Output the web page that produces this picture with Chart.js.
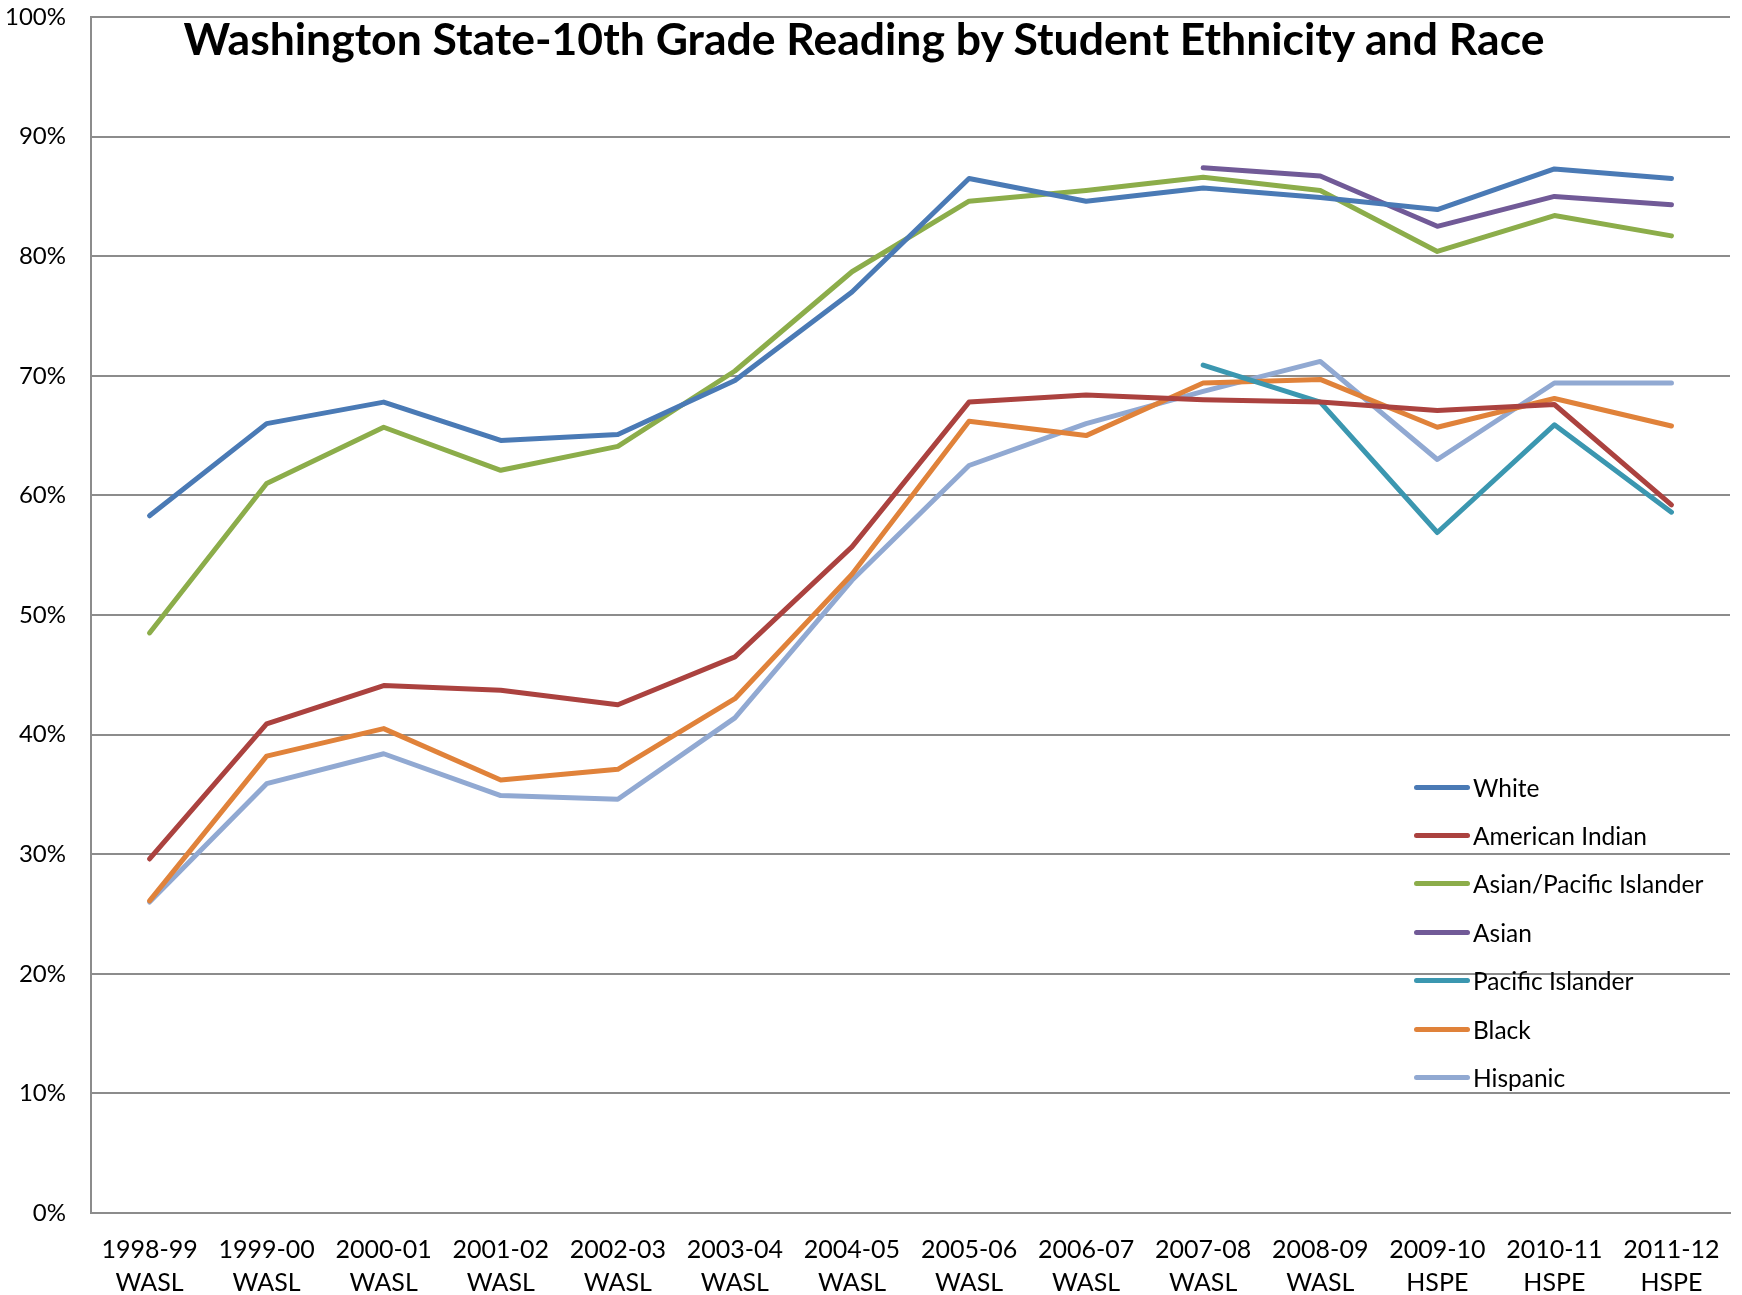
<!DOCTYPE html>
<html><head><meta charset="utf-8">
<script src="https://cdn.jsdelivr.net/npm/chart.js@4/dist/chart.umd.min.js"></script>
<style>
html,body{margin:0;padding:0;background:#fff;}
#wrap{position:relative;width:1742px;height:1295px;overflow:hidden;}
#c{position:absolute;left:0;top:0;}
#title{position:absolute;left:0;width:1728px;top:14px;text-align:center;font-family:Lato,'Open Sans',sans-serif;font-weight:bold;font-size:44.5px;line-height:48px;color:#000;white-space:nowrap;}
.li{position:absolute;left:1414px;height:30px;display:flex;align-items:center;font-family:Lato,'Open Sans',sans-serif;font-size:24.5px;color:#000;white-space:nowrap;}
.li span.sw{display:inline-block;width:56px;height:5px;border-radius:3px;margin-right:3px;}
</style>
</head><body>
<div id="wrap">
<canvas id="c" width="1742" height="1295"></canvas>
<div id="title">Washington State-10th Grade Reading by Student Ethnicity and Race</div>
<div id="legend"></div>
</div>
<script>
const years = ['1998-99','1999-00','2000-01','2001-02','2002-03','2003-04','2004-05','2005-06','2006-07','2007-08','2008-09','2009-10','2010-11','2011-12'];
const tests = ['WASL','WASL','WASL','WASL','WASL','WASL','WASL','WASL','WASL','WASL','WASL','HSPE','HSPE','HSPE'];
const seriesNames = ['White','American Indian','Asian/Pacific Islander','Asian','Pacific Islander','Black','Hispanic'];
const seriesColors = ['#4a7ab5','#ab423f','#8cad4a','#715a97','#3b97b0','#e0823a','#91a9d2'];
const white = [58.3,66.0,67.8,64.6,65.1,69.6,77.0,86.5,84.6,85.7,84.9,83.9,87.3,86.5];
const americanIndian = [29.6,40.9,44.1,43.7,42.5,46.5,55.7,67.8,68.4,68.0,67.8,67.1,67.6,59.2];
const asianPacific = [48.5,61.0,65.7,62.1,64.1,70.4,78.7,84.6,85.5,86.6,85.5,80.4,83.4,81.7];
const asian = [null,null,null,null,null,null,null,null,null,87.4,86.7,82.5,85.0,84.3];
const pacificIslander = [null,null,null,null,null,null,null,null,null,70.9,67.8,56.9,65.9,58.6];
const black = [26.1,38.2,40.5,36.2,37.1,43.0,53.4,66.2,65.0,69.4,69.7,65.7,68.1,65.8];
const hispanic = [26.0,35.9,38.4,34.9,34.6,41.4,52.9,62.5,66.0,68.7,71.2,63.0,69.4,69.4];
const yTicks = [0,10,20,30,40,50,60,70,80,90,100];

const seriesData = [white, americanIndian, asianPacific, asian, pacificIslander, black, hispanic];
const labels = years.map((y,i)=>[y, tests[i]]);
const FONT = "Lato, 'Open Sans', sans-serif";
const gridColor = '#8c8c8c';

const datasets = seriesNames.map((n,i)=>({
  label:n, data:seriesData[i], borderColor:seriesColors[i], backgroundColor:seriesColors[i],
  borderWidth:5, pointRadius:0, pointHoverRadius:0, tension:0, fill:false,
  borderJoinStyle:'round', borderCapStyle:'round', spanGaps:false
}));

new Chart(document.getElementById('c'), {
  type:'line',
  data:{labels, datasets},
  options:{
    responsive:false, animation:false, devicePixelRatio:1,
    layout:{padding:{left:0,right:12,top:17,bottom:0}},
    plugins:{legend:{display:false}, title:{display:false}, tooltip:{enabled:false}},
    scales:{
      x:{
        offset:true,
        grid:{display:false, drawTicks:false},
        border:{display:true, color:gridColor, width:2},
        ticks:{color:'#000', font:{family:FONT, size:25, lineHeight:1.3}, padding:21, maxRotation:0, autoSkip:false},
        afterFit:(s)=>{ s.height = 82; s.paddingLeft = 0; s.paddingRight = 0; }
      },
      y:{
        min:0, max:100,
        afterBuildTicks:(s)=>{ s.ticks = yTicks.map(v=>({value:v})); },
        grid:{color:gridColor, lineWidth:2, drawTicks:false},
        border:{display:true, color:gridColor, width:2},
        ticks:{color:'#000', font:{family:FONT, size:24}, padding:25, callback:(v)=>v+'%'},
        afterFit:(s)=>{ s.width = 91; s.paddingTop = 0; s.paddingBottom = 0; }
      }
    }
  }
});

const leg = document.getElementById('legend');
seriesNames.forEach((n,i)=>{
  const d = document.createElement('div');
  d.className='li';
  d.style.top = (787 + 48.4*i - 15) + 'px';
  d.innerHTML = '<span class="sw" style="background:'+seriesColors[i]+'"></span><span>'+n+'</span>';
  leg.appendChild(d);
});
</script>
</body></html>
